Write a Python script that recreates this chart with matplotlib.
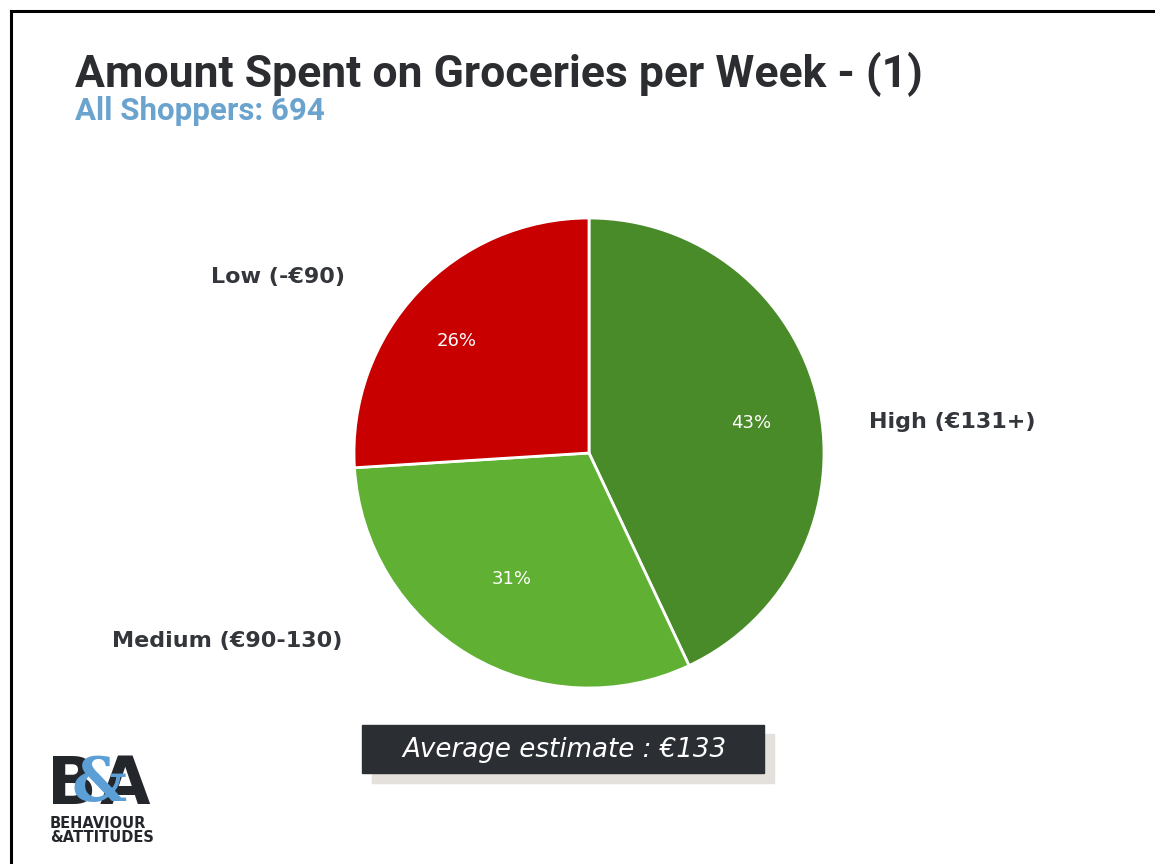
import numpy as np
import matplotlib.pyplot as plt
from matplotlib.patches import Rectangle

# spend bands, share of shoppers (%)
categories = ["High (€131+)", "Medium (€90-130)", "Low (-€90)"]
shares = [43, 31, 26]
colors = ["#4a8b29", "#60b033", "#c80000"]

title = "Amount Spent on Groceries per Week - (1)"
subtitle = "All Shoppers: 694"
average_note = "Average estimate : €133"

W, H = 1155, 864
fig = plt.figure(figsize=(W / 100, H / 100), dpi=100)
fig.patch.set_facecolor("white")


def fx(px):
    return px / W


def fy(py):
    return 1 - py / H


# slide frame (runs off the right and bottom edges)
fig.add_artist(plt.Line2D([fx(11), fx(1160)], [fy(11), fy(11)], color="black", lw=2.2))
fig.add_artist(plt.Line2D([fx(11), fx(11)], [fy(11), fy(870)], color="black", lw=2.2))

fig.text(fx(75), fy(74), title, fontsize=32, fontweight="bold",
         color="#2b2d30", family="Roboto", va="center", ha="left")
fig.text(fx(75), fy(111), subtitle, fontsize=22.5, fontweight="bold",
         color="#6aa3cd", family="Roboto", va="center", ha="left")

# pie
cx, cy, r = 589, 453, 235
ax = fig.add_axes([fx(cx - r), fy(cy + r), 2 * r / W, 2 * r / H])
wedges, _, autotexts = ax.pie(shares, colors=colors, startangle=90, counterclock=False,
                              autopct="%d%%",
                              wedgeprops=dict(edgecolor="white", linewidth=2),
                              textprops=dict(color="white", fontsize=13, family="DejaVu Sans"))
ax.set_xlim(-1, 1)
ax.set_ylim(-1, 1)
ax.set_aspect("equal")
ax.axis("off")

# percentage labels sit at slightly different depths/angles in each wedge
pct_dist = [0.70, 0.63, 0.74]
pct_turn = [-2, -1, 3]
for w, t, d, turn in zip(wedges, autotexts, pct_dist, pct_turn):
    mid = np.deg2rad((w.theta1 + w.theta2) / 2 + turn)
    t.set_position((d * np.cos(mid), d * np.sin(mid)))

# category labels beside the pie
label_pos = [(1.19, 0.13, "left"), (-1.05, -0.80, "right"), (-1.04, 0.75, "right")]
for name, (lx, ly, ha) in zip(categories, label_pos):
    ax.text(lx, ly, name, ha=ha, va="center", fontsize=16, fontweight="bold",
            color="#33363a", family="DejaVu Sans", clip_on=False)

# average estimate box with shadow
fig.add_artist(Rectangle((fx(372), fy(783)), (774 - 372) / W, (783 - 734) / H,
                         transform=fig.transFigure, color="#e4e0dc", zorder=1))
fig.add_artist(Rectangle((fx(362), fy(773)), (764 - 362) / W, (773 - 725) / H,
                         transform=fig.transFigure, color="#2b2e33", zorder=2))
fig.text(fx(564), fy(750), average_note, fontsize=18.8, style="italic", color="white",
         family="DejaVu Sans", ha="center", va="center", zorder=3)

# B&A logo
fig.text(fx(47), fy(786), "B", fontsize=47, fontweight="heavy", color="#23272b",
         family="DejaVu Sans", ha="left", va="center")
fig.text(fx(150), fy(786), "A", fontsize=47, fontweight="heavy", color="#23272b",
         family="DejaVu Sans", ha="right", va="center")
fig.text(fx(99), fy(784), "&", fontsize=44, fontweight="bold", color="#5b9fd6",
         family="DejaVu Serif", ha="center", va="center")
fig.text(fx(50), fy(824), "BEHAVIOUR", fontsize=10.5, fontweight="heavy", color="#23272b",
         family="DejaVu Sans", ha="left", va="center")
fig.text(fx(50), fy(838), "&ATTITUDES", fontsize=10.5, fontweight="heavy", color="#23272b",
         family="DejaVu Sans", ha="left", va="center")

fig.savefig("out.png", dpi=100)
